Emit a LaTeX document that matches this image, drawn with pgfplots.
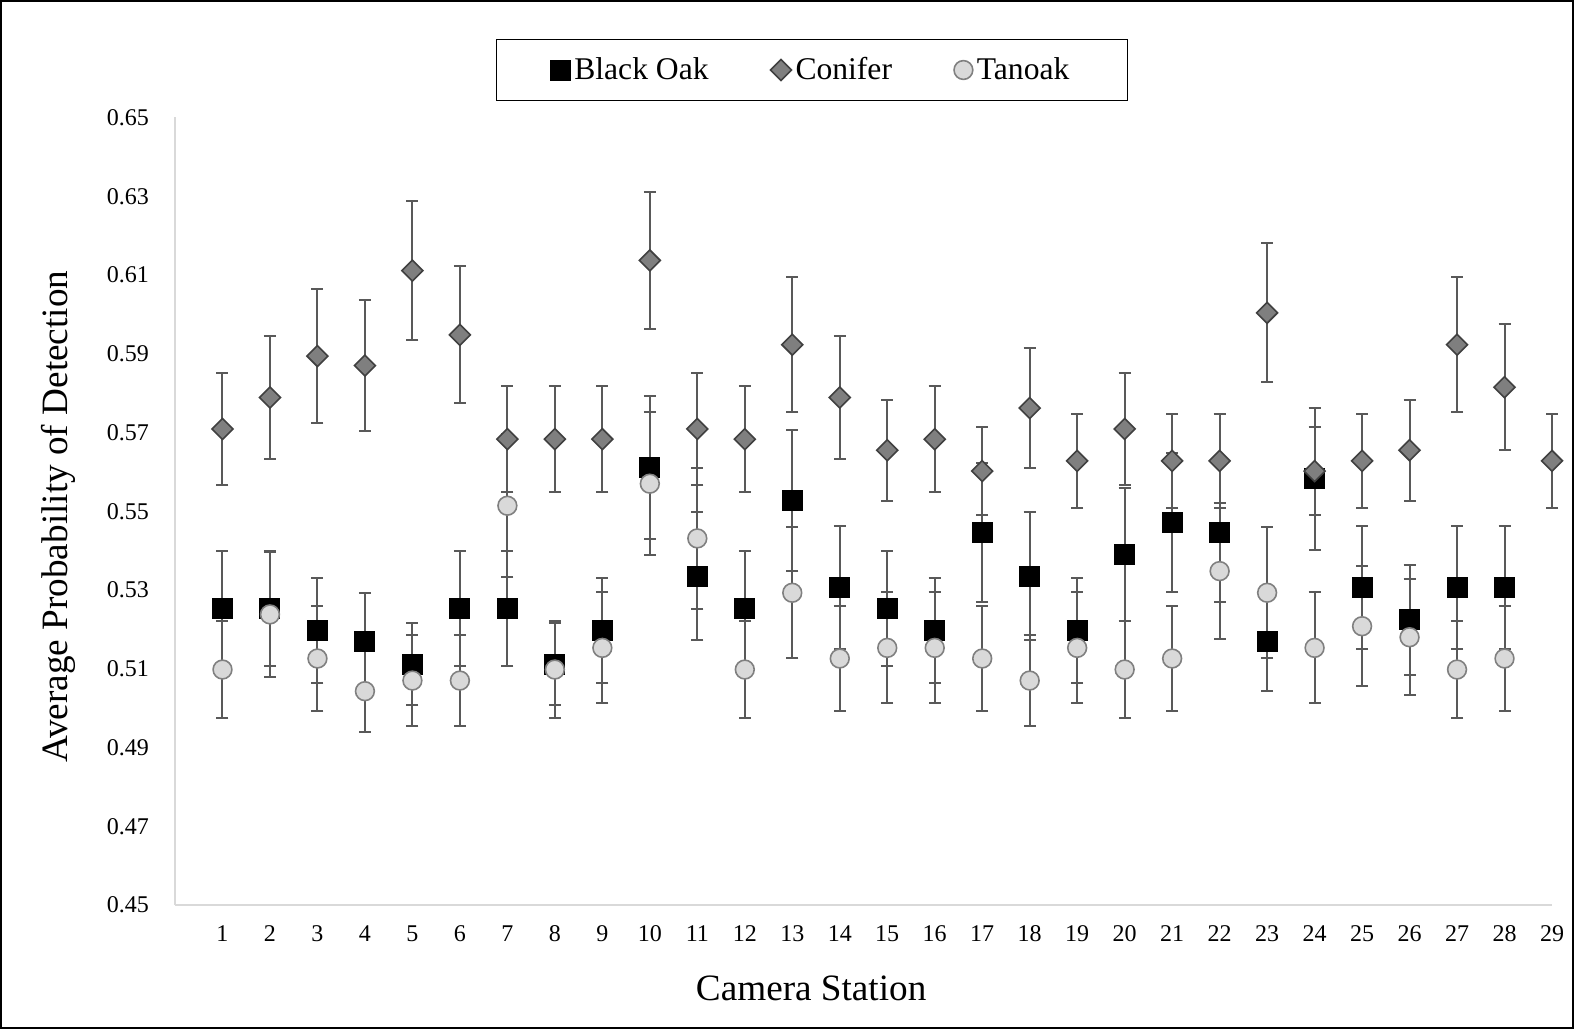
\documentclass[border=0pt]{standalone}
\usepackage{fontspec}
\setmainfont{Liberation Serif}
\usepackage{pgfplots}
\usepackage{pgfplotstable}
\pgfplotsset{compat=1.18}
\definecolor{axisgray}{HTML}{D9D9D9}
\definecolor{errgray}{HTML}{595959}
\definecolor{conifill}{HTML}{7F7F7F}
\definecolor{conidraw}{HTML}{404040}
\definecolor{tanfill}{HTML}{D9D9D9}
\definecolor{tandraw}{HTML}{808080}

\pgfplotstableread{
x y e
1 0.5253 0.0145
2 0.5253 0.0145
3 0.5197 0.0133
4 0.5168 0.0125
5 0.5112 0.0104
6 0.5253 0.0145
7 0.5253 0.0145
8 0.5112 0.0104
9 0.5197 0.0133
10 0.5611 0.0181
11 0.5335 0.0162
12 0.5253 0.0145
13 0.5528 0.0179
14 0.5307 0.0156
15 0.5253 0.0145
16 0.5197 0.0133
17 0.5446 0.0176
18 0.5335 0.0162
19 0.5197 0.0133
20 0.5390 0.0169
21 0.5472 0.0176
22 0.5446 0.0176
23 0.5168 0.0124
24 0.5582 0.0181
25 0.5307 0.0156
26 0.5224 0.0139
27 0.5307 0.0156
28 0.5307 0.0156
}\blackoak

\pgfplotstableread{
x y e
1 0.5709 0.0142
2 0.5789 0.0156
3 0.5894 0.0170
4 0.5870 0.0167
5 0.6111 0.0176
6 0.5948 0.0174
7 0.5683 0.0135
8 0.5683 0.0135
9 0.5683 0.0135
10 0.6137 0.0174
11 0.5709 0.0142
12 0.5683 0.0135
13 0.5923 0.0172
14 0.5789 0.0156
15 0.5655 0.0128
16 0.5683 0.0135
17 0.5602 0.0112
18 0.5762 0.0152
19 0.5628 0.0120
20 0.5709 0.0142
21 0.5628 0.0120
22 0.5628 0.0120
23 0.6004 0.0176
24 0.5602 0.0112
25 0.5628 0.0120
26 0.5655 0.0128
27 0.5923 0.0172
28 0.5815 0.0160
29 0.5628 0.0120
}\conifer

\pgfplotstableread{
x y e
1 0.5098 0.0124
2 0.5238 0.0158
3 0.5126 0.0133
4 0.5043 0.0104
5 0.5070 0.0115
6 0.5070 0.0115
7 0.5514 0.0182
8 0.5098 0.0124
9 0.5153 0.0141
10 0.5570 0.0181
11 0.5431 0.0180
12 0.5098 0.0124
13 0.5293 0.0166
14 0.5126 0.0133
15 0.5153 0.0141
16 0.5153 0.0141
17 0.5126 0.0133
18 0.5070 0.0115
19 0.5153 0.0141
20 0.5098 0.0124
21 0.5126 0.0133
22 0.5348 0.0173
23 0.5293 0.0166
24 0.5153 0.0141
25 0.5208 0.0152
26 0.5180 0.0147
27 0.5098 0.0124
28 0.5126 0.0133
}\tanoak

\begin{document}
\begin{tikzpicture}
\useasboundingbox (0,0) rectangle (787bp,514.5bp);
\draw[line width=1.2bp] (0.6bp,0.6bp) rectangle (786.4bp,513.9bp);
\begin{axis}[
  at={(87.5bp,62bp)}, anchor=south west,
  scale only axis, width=688.5bp, height=393.75bp,
  clip=false,
  xmin=0, xmax=29, ymin=0.45, ymax=0.65,
  xtick={1,...,29},
  ytick={0.45,0.47,0.49,0.51,0.53,0.55,0.57,0.59,0.61,0.63,0.65},
  axis x line=bottom, axis y line=left,
  axis line style={-, draw=axisgray, line width=1bp},
  major tick length=0pt,
  tick label style={font=\fontsize{12bp}{14bp}\selectfont},
  /pgf/number format/assume math mode=true,
  yticklabel style={/pgf/number format/.cd, fixed, fixed zerofill, precision=2, /tikz/.cd, xshift=-9.5bp},
  xticklabel style={yshift=-7bp},
  xlabel={Camera Station},
  xlabel style={at={(axis description cs:0.462,0)}, anchor=base, yshift=-47.5bp, font=\fontsize{18.6bp}{22bp}\selectfont},
  ylabel={Average Probability of Detection},
  ylabel style={at={(axis description cs:-0.0784,0.493)}, anchor=base, font=\fontsize{18.6bp}{22bp}\selectfont},
  legend columns=3,
  legend style={at={(axis description cs:0.4625,1.0603)}, anchor=center, draw=black, line width=0.8bp,
    font=\fontsize{15.8bp}{18bp}\selectfont, inner xsep=27bp, inner ysep=7bp,
    /tikz/every even column/.append style={column sep=29bp}},
  legend image code/.code={\draw[#1] plot coordinates {(4bp,0bp)};},
]
\addplot[only marks, mark=square*, mark size=5bp, mark options={fill=black, draw=black, line width=0.5bp},
  error bars/.cd, y dir=both, y explicit,
  error bar style={errgray, line width=1bp},
  error mark options={rotate=90, errgray, mark size=3bp, line width=1bp}]
  table[x=x, y=y, y error=e] {\blackoak};
\addlegendentry{Black Oak}
\addplot[only marks, mark=square*, mark size=3.7bp, mark options={rotate=45, fill=conifill, draw=conidraw, line width=0.8bp},
  error bars/.cd, y dir=both, y explicit,
  error bar style={errgray, line width=1bp},
  error mark options={rotate=90, errgray, mark size=3bp, line width=1bp}]
  table[x=x, y=y, y error=e] {\conifer};
\addlegendentry{Conifer}
\addplot[only marks, mark=*, mark size=4.7bp, mark options={fill=tanfill, draw=tandraw, line width=0.8bp},
  error bars/.cd, y dir=both, y explicit,
  error bar style={errgray, line width=1bp},
  error mark options={rotate=90, errgray, mark size=3bp, line width=1bp}]
  table[x=x, y=y, y error=e] {\tanoak};
\addlegendentry{Tanoak}
\end{axis}
\end{tikzpicture}
\end{document}
